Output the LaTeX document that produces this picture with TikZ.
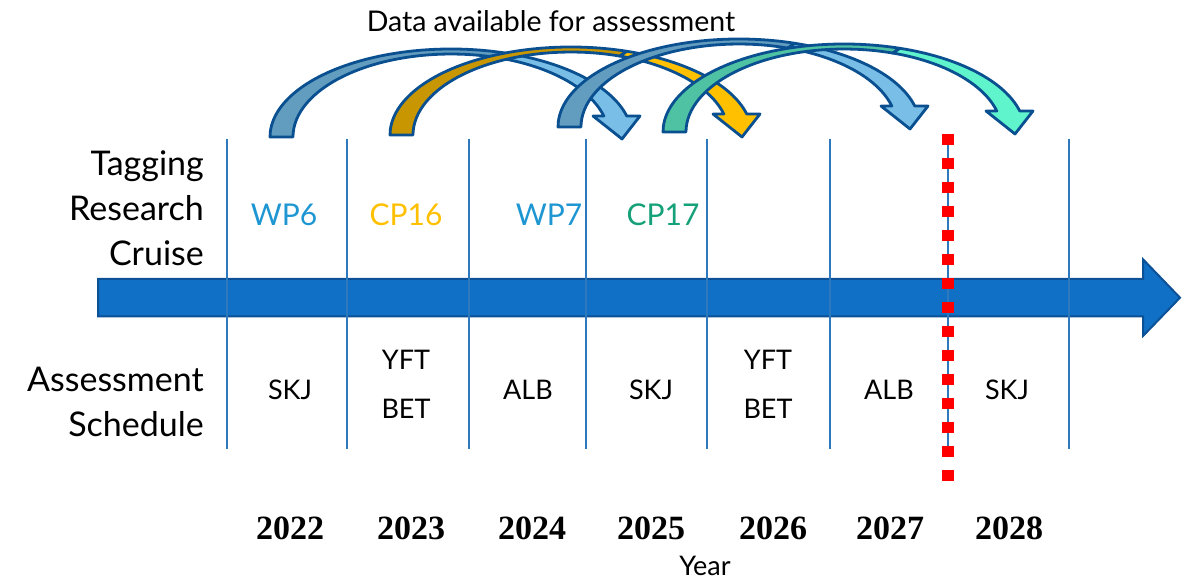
\documentclass[tikz,border=0pt]{standalone}
\usepackage{fontspec}
\setmainfont{Lato}
\newfontfamily\yearfont{Liberation Serif}

\definecolor{timeblue}{RGB}{16,112,198}
\definecolor{timeedge}{RGB}{12,80,150}
\definecolor{gridblue}{RGB}{46,120,190}
\definecolor{arrowedge}{RGB}{10,80,145}
\definecolor{wpdark}{RGB}{98,156,190}
\definecolor{wplight}{RGB}{120,190,230}
\definecolor{cpdark}{RGB}{200,150,0}
\definecolor{cplight}{RGB}{255,192,0}
\definecolor{grdark}{RGB}{78,194,162}
\definecolor{grlight}{RGB}{96,244,204}
\definecolor{wptext}{RGB}{30,150,210}
\definecolor{cptext}{RGB}{255,192,0}
\definecolor{grtext}{RGB}{20,160,120}

\tikzset{
  every node/.style={inner sep=0pt},
  rowlabel/.style={anchor=east,align=right,font=\fontsize{34}{45}\selectfont},
  cruise/.style={font=\fontsize{30}{36}\selectfont},
  stock/.style={align=center,font=\fontsize{27}{49}\selectfont},
  yearlabel/.style={font=\yearfont\bfseries\fontsize{34}{40}\selectfont},
  gridline/.style={draw=gridblue,line width=1.5pt},
  back/.style={fill=wpdark},
  front/.style={fill=wplight},
  edge/.style={draw=arrowedge,line width=2.8pt,line join=round},
  cruisearrow/.pic={
    % rising part, darker
    \filldraw[back,edge] (0,0)
      arc[start angle=180,end angle=72,x radius=181,y radius=88]
      -- (229.8,78.9)
      arc[start angle=72,end angle=180,x radius=158,y radius=83] -- cycle;
    % falling part with head
    \filldraw[front,edge] (236.9,83.7)
      arc[start angle=72,end angle=13.8,x radius=181,y radius=88]
      -- (370,21) -- (352,-2) -- (323,21) -- (333.8,21)
      arc[start angle=14.66,end angle=72,x radius=158,y radius=83] -- cycle;
  }
}

\begin{document}
\begin{tikzpicture}[x=1pt,y=1pt]
    \useasboundingbox (0,0) rectangle (1188,580);

    % time axis
    \filldraw[fill=timeblue,draw=timeedge,line width=2pt]
      (98,263.5) -- (1143,263.5) -- (1143,244) -- (1180,282.3)
      -- (1143,320.7) -- (1143,301) -- (98,301) -- cycle;

    \draw[gridline] (227,441) -- (227,131);
    \draw[gridline] (347,441) -- (347,131);
    \draw[gridline] (469,441) -- (469,131);
    \draw[gridline] (586,441) -- (586,131);
    \draw[gridline] (707,441) -- (707,131);
    \draw[gridline] (830,441) -- (830,131);
    \draw[gridline] (948,441) -- (948,131);
    \draw[gridline] (1069,441) -- (1069,131);

    \draw[red,line width=12pt,dash pattern=on 11pt off 13pt] (948,446) -- (948,98);

    % data availability
    \pic at (270,443) {cruisearrow};
    \pic[back/.style={fill=cpdark},front/.style={fill=cplight}] at (390,445) {cruisearrow};
    \pic at (558,453) {cruisearrow};
    \pic[back/.style={fill=grdark},front/.style={fill=grlight}] at (663,448) {cruisearrow};

    \node (avail) at (551,558.5) {\fontsize{28.5}{33}\selectfont Data available for assessment};

    % rows
    \node[rowlabel] (tagging) at (204,372) {Tagging\\Research\\Cruise};
    \node[rowlabel] (assess) at (204,177.7) {Assessment\\Schedule};

    \node[cruise,text=wptext] (wp6) at (284,365) {WP6};
    \node[cruise,text=cptext] (cp16) at (406,365) {CP16};
    \node[cruise,text=wptext] (wp7) at (549,365) {WP7};
    \node[cruise,text=grtext] (cp17) at (663,365) {CP17};

    \node[stock] (skj22) at (290,190) {SKJ};
    \node[stock] (tuna23) at (406,195.6) {YFT\\BET};
    \node[stock] (alb24) at (528,190) {ALB};
    \node[stock] (skj25) at (651,190) {SKJ};
    \node[stock] (tuna26) at (768,195.6) {YFT\\BET};
    \node[stock] (alb27) at (889,190) {ALB};
    \node[stock] (skj28) at (1007,190) {SKJ};

    \node[yearlabel] (y2022) at (290,52) {2022};
    \node[yearlabel] (y2023) at (411,52) {2023};
    \node[yearlabel] (y2024) at (532,52) {2024};
    \node[yearlabel] (y2025) at (651,52) {2025};
    \node[yearlabel] (y2026) at (773,52) {2026};
    \node[yearlabel] (y2027) at (890,52) {2027};
    \node[yearlabel] (y2028) at (1009,52) {2028};

    \node (year) at (705,14) {\fontsize{27}{32}\selectfont Year};
\end{tikzpicture}
\end{document}
